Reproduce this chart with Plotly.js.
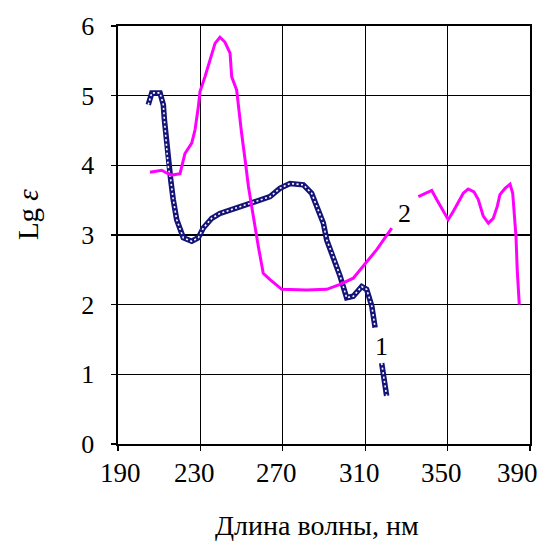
<!DOCTYPE html>
<html>
<head>
<meta charset="utf-8">
<script src="https://cdn.plot.ly/plotly-3.0.1.min.js"></script>
<style>
  html, body { margin: 0; padding: 0; background: #fff; }
  #chart { width: 541px; height: 544px; }
</style>
</head>
<body>
<div id="chart"></div>
<script>
// Wavelength (nm) and Lg ε
const curve1X = [204.7, 206.4, 210.4, 212.0, 212.5, 213.6, 214.4, 215.6, 216.8, 218.5, 221.7, 225.8, 229.0, 231.4, 235.5, 239.5, 247.6, 255.7, 263.8, 268.6, 273.5, 280.0, 284.0, 286.5, 289.7, 291.3, 294.5, 297.8, 301.0, 304.2, 308.3, 310.7, 313.2, 314.8, null, 318.0, 320.4];
const curve1Y = [4.87, 5.04, 5.04, 4.87, 4.66, 4.32, 3.98, 3.79, 3.51, 3.22, 2.96, 2.91, 2.96, 3.10, 3.24, 3.31, 3.39, 3.46, 3.55, 3.67, 3.74, 3.72, 3.60, 3.41, 3.17, 2.93, 2.69, 2.41, 2.10, 2.12, 2.26, 2.22, 1.98, 1.67, null, 1.16, 0.69];

const curve2X = [205.5, 211.2, 213.6, 216.1, 220.1, 222.5, 225.8, 227.4, 229.0, 229.8, 232.2, 234.7, 237.1, 239.5, 241.9, 244.4, 245.2, 247.6, 248.4, 250.0, 251.7, 253.3, 254.9, 255.7, 257.3, 258.1, 260.5, 263.8, 269.5, 281.6, 291.3, 297.8, 304.2, 309.1, 315.6, 322.9, null,
  335.8, 339.0, 342.3, 344.7, 347.9, 350.3, 352.8, 355.2, 357.6, 360.0, 362.8, 364.9, 367.3, 369.8, 372.2, 374.1, 375.4, 377.9, 380.3, 381.6, 382.7, 383.2, 383.8, 384.8];
const curve2Y = [3.90, 3.93, 3.89, 3.86, 3.88, 4.17, 4.32, 4.51, 4.84, 5.06, 5.27, 5.51, 5.75, 5.84, 5.77, 5.61, 5.27, 5.08, 4.84, 4.46, 4.08, 3.70, 3.41, 3.27, 2.93, 2.84, 2.45, 2.36, 2.22, 2.21, 2.22, 2.29, 2.38, 2.55, 2.79, 3.10, null,
  3.55, 3.60, 3.64, 3.51, 3.34, 3.22, 3.34, 3.48, 3.60, 3.66, 3.62, 3.51, 3.27, 3.17, 3.24, 3.41, 3.58, 3.67, 3.73, 3.60, 3.22, 2.98, 2.50, 2.00];

const curveLabels = ['1', '2'];
const xTickVals = [190, 230, 270, 310, 350, 390];
const yTickVals = [0, 1, 2, 3, 4, 5, 6];
const xTitle = 'Длина волны, нм';
const yTitle = 'Lg <i>ε</i>';

const serif = 'Liberation Serif, Times New Roman, serif';

const traces = [
  { x: curve1X, y: curve1Y, mode: 'lines', connectgaps: false, hoverinfo: 'skip',
    line: { color: '#141478', width: 5.5 } },
  { x: curve1X, y: curve1Y, mode: 'lines', connectgaps: false, hoverinfo: 'skip',
    line: { color: '#ffffff', width: 1.6, dash: '2px,2.5px' } },
  { x: curve2X, y: curve2Y, mode: 'lines', connectgaps: false, hoverinfo: 'skip',
    line: { color: '#ff00ff', width: 3 } }
];

const axisCommon = {
  showgrid: true, gridcolor: '#000', gridwidth: 1.4,
  showline: true, linecolor: '#000', linewidth: 1.6, mirror: true,
  ticks: 'outside', ticklen: 5, tickwidth: 1.4, tickcolor: '#000',
  zeroline: false, fixedrange: true,
  tickfont: { family: serif, size: 26, color: '#000' }
};

// x tick labels drawn as annotations anchored on the x axis scale,
// so the last one ("390") can stay inside the picture as in the reference
const xTickAnnotations = xTickVals.map((v, i) => {
  const last = i === xTickVals.length - 1;
  return {
    text: String(v), x: v, xref: 'x', y: 0, yref: 'paper',
    xanchor: last ? 'right' : 'center', yanchor: 'middle',
    xshift: last ? 10 : (i === 0 ? 2 : -6), yshift: -29,
    showarrow: false, font: { family: serif, size: 27, color: '#000' }
  };
});

const layout = {
  width: 541, height: 544,
  margin: { l: 118, r: 11, t: 26, b: 100 },
  paper_bgcolor: '#fff', plot_bgcolor: '#fff',
  showlegend: false,
  font: { family: serif, color: '#000' },
  xaxis: Object.assign({}, axisCommon, {
    range: [190, 390], tickvals: xTickVals, showticklabels: false
  }),
  yaxis: Object.assign({}, axisCommon, {
    range: [0, 6], tickvals: yTickVals, ticktext: yTickVals.map(String),
    ticklabelstandoff: 12
  }),
  annotations: xTickAnnotations.concat([
    { text: xTitle, xref: 'paper', yref: 'paper', x: 0.483, y: -0.196,
      xanchor: 'center', yanchor: 'middle', showarrow: false,
      font: { family: serif, size: 28, color: '#000' } },
    { text: yTitle, xref: 'paper', yref: 'paper', x: -0.218, y: 0.548,
      xanchor: 'center', yanchor: 'middle', showarrow: false, textangle: -90,
      font: { family: serif, size: 29, color: '#000' } },
    { text: curveLabels[0], x: 318.0, y: 1.40, xref: 'x', yref: 'y', showarrow: false,
      font: { family: serif, size: 26, color: '#000' } },
    { text: curveLabels[1], x: 329.3, y: 3.31, xref: 'x', yref: 'y', showarrow: false,
      font: { family: serif, size: 26, color: '#000' } }
  ])
};

Plotly.newPlot('chart', traces, layout, { staticPlot: true, displayModeBar: false });
</script>
</body>
</html>
